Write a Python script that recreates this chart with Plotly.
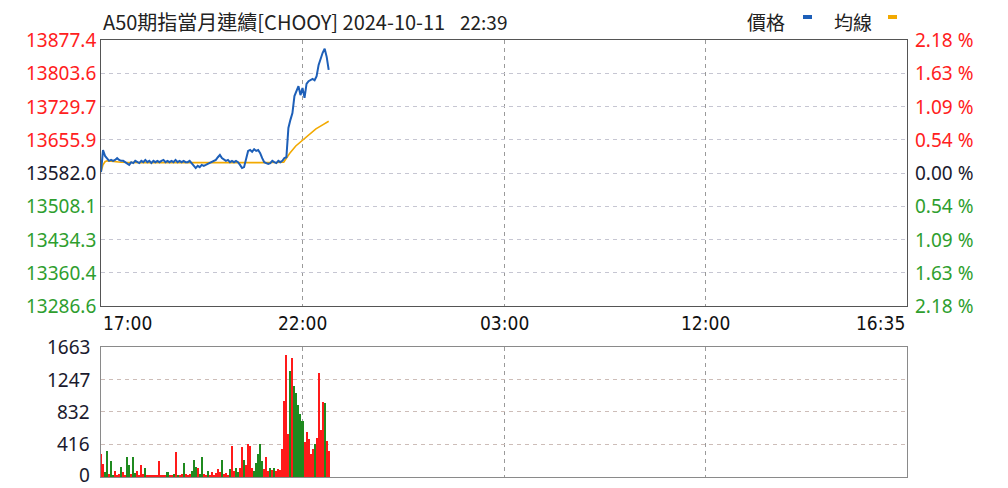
import plotly.graph_objects as go

# ---------------- data ----------------
title_text = "A50期指當月連續[CHOOY] 2024-10-11"
time_text = "22:39"
legend_names = ["價格", "均線"]
base_price = 13582.0
price_ticks = [13877.4, 13803.6, 13729.7, 13655.9, 13582.0, 13508.1, 13434.3, 13360.4, 13286.6]
pct_labels = ["2.18 %", "1.63 %", "1.09 %", "0.54 %", "0.00 %", "0.54 %", "1.09 %", "1.63 %", "2.18 %"]
vol_ticks = [0, 416, 832, 1247, 1663]
x_tick_pos = [0, 300, 600, 900, 1200]          # minutes on the session axis
x_tick_labels = ["17:00", "22:00", "03:00", "12:00", "16:35"]

minutes = list(range(0, 340, 3))                 # minutes since 17:00
price = [13584, 13633, 13620, 13613, 13609, 13611, 13609, 13611, 13615, 13611,
         13609, 13609, 13606, 13602, 13600, 13606, 13604, 13609, 13606, 13604,
         13609, 13606, 13611, 13606, 13609, 13604, 13609, 13606, 13609, 13606,
         13609, 13611, 13606, 13609, 13606, 13609, 13606, 13611, 13606, 13609,
         13606, 13609, 13606, 13606, 13609, 13604, 13598, 13593, 13598, 13595,
         13600, 13598, 13600, 13602, 13604, 13606, 13609, 13611, 13617, 13622,
         13615, 13611, 13609, 13611, 13606, 13609, 13606, 13609, 13606, 13600,
         13593, 13595, 13611, 13631, 13633, 13629, 13635, 13631, 13633, 13626,
         13615, 13606, 13604, 13602, 13604, 13609, 13606, 13604, 13609, 13606,
         13609, 13615, 13617, 13682, 13700, 13715, 13753, 13764, 13775, 13755,
         13771, 13749, 13780, 13786, 13788, 13791, 13788, 13797, 13822, 13837,
         13849, 13858, 13840, 13811]

avg_minutes = [0, 3, 6, 9, 15, 30, 60, 90, 120, 150, 180, 210, 240, 272, 281, 290, 300, 311, 320, 330, 339]
avg_price = [13584, 13600, 13607, 13609, 13608, 13606, 13605, 13605, 13605, 13604,
             13604, 13605, 13605, 13606, 13626, 13642, 13655, 13669, 13680, 13689, 13697]

volume = [290, 170, 60, 330, 40, 200, 30, 80, 30, 40,
          130, 60, 30, 262, 150, 40, 250, 50, 80, 30,
          157, 40, 110, 25, 20, 20, 25, 20, 30, 210,
          20, 25, 20, 60, 25, 30, 40, 314, 30, 25,
          40, 183, 40, 30, 40, 80, 223, 130, 110, 40,
          250, 40, 30, 80, 30, 65, 30, 50, 100, 60,
          223, 40, 50, 30, 100, 393, 80, 120, 60, 120,
          380, 223, 150, 419, 400, 120, 80, 180, 300, 420,
          200, 100, 250, 80, 120, 90, 110, 80, 100, 90,
          354, 970, 1560, 550, 1362, 1520, 1166, 1074, 917, 812,
          720, 450, 576, 484, 300, 354, 419, 500, 1336, 600,
          956, 943, 458, 328]
# u = up (red), d = down (green)
vol_dir = list("uuddudduuu" "duuddudduu" "uuduuuuuuu" "uuuduududu"
               "uduuudddud" "duuduuuuuu" "duuuduuddu" "uduuuudddd"
               "duuududuuu" "uuuududddd" "duuuuuduuu" "uduu")

# ---------------- styles ----------------
# The page body has an 8px margin, so the figure is 1000x480 and all
# pixel positions below are measured on the 1008x488 window.
OFF = 8
W, H = 1008 - OFF, 488 - OFF
PL, PR, PT, PB = 101, 907, 40, 477   # plot area in window pixels
PW, PH = PR - PL, PB - PT

def px(x):
    return (x - PL) / PW

def py(y):
    return (PB - y) / PH

RED = "#ff2020"
GREEN = "#2e9e2e"
DARK = "#1a1a2e"
vol_colors = ["#ff1a1a" if d == "u" else "#1f8a1f" for d in vol_dir]

fig = go.Figure()
fig.add_trace(go.Bar(x=minutes, y=volume, marker=dict(color=vol_colors, line=dict(width=0)),
                     width=3, xaxis="x2", yaxis="y2", showlegend=False, hoverinfo="skip"))
fig.add_trace(go.Scatter(x=avg_minutes, y=avg_price, mode="lines",
                         line=dict(color="#f2a900", width=1.6), showlegend=False))
fig.add_trace(go.Scatter(x=minutes, y=price, mode="lines",
                         line=dict(color="#1d5fb8", width=2), showlegend=False))

grid_common = dict(showgrid=True, griddash="4px,4px", zeroline=False, ticks="",
                   showticklabels=False, showline=True, mirror=True, linewidth=1)

fig.update_layout(
    width=W, height=H,
    margin=dict(l=PL - OFF, r=W - (PR - OFF), t=PT - OFF, b=H - (PB - OFF), pad=0),
    paper_bgcolor="white", plot_bgcolor="white",
    bargap=0,
    font=dict(family="Noto Sans, Open Sans, sans-serif", color=DARK),
    xaxis=dict(domain=[0, 1], range=[0, 1200], tickvals=x_tick_pos[1:-1], anchor="y",
               gridcolor="#9a9a9a", linecolor="#555555", **grid_common),
    yaxis=dict(domain=[py(306), 1.0], range=[price_ticks[-1], price_ticks[0]],
               tickvals=price_ticks[1:-1], anchor="x",
               gridcolor="#c6c6d2", linecolor="#555555", **grid_common),
    xaxis2=dict(domain=[0, 1], range=[0, 1200], tickvals=x_tick_pos[1:-1], anchor="y2",
                gridcolor="#9a9a9a", linecolor="#8a8a8a", **grid_common),
    yaxis2=dict(domain=[0.0, py(347)], range=[vol_ticks[0], vol_ticks[-1]],
                tickvals=vol_ticks[1:-1], anchor="x2",
                gridcolor="#cdbdb8", linecolor="#8a8a8a", **grid_common),
)

ann = []
label_font = "Noto Sans, Open Sans, sans-serif"
for v, p in zip(price_ticks, pct_labels):
    col = RED if v > base_price else (GREEN if v < base_price else DARK)
    ann.append(dict(xref="x", yref="y", x=0, y=v, text=f"{v:.1f}", showarrow=False,
                    xanchor="right", yanchor="middle", xshift=-3,
                    font=dict(family=label_font, size=19, color=col)))
    ann.append(dict(xref="x", yref="y", x=1200, y=v, text=p, showarrow=False,
                    xanchor="left", yanchor="middle", xshift=6,
                    font=dict(family=label_font, size=19, color=col)))
for v in vol_ticks:
    ann.append(dict(xref="x2", yref="y2", x=0, y=v, text=str(v), showarrow=False,
                    xanchor="right", yanchor="middle", xshift=-9,
                    yshift=2 if v == 0 else 0,
                    font=dict(family=label_font, size=19, color=DARK)))
anchors = ["left", "center", "center", "center", "right"]
for xv, lab, an in zip(x_tick_pos, x_tick_labels, anchors):
    ann.append(dict(xref="x", yref="paper", x=xv, y=py(323), text=lab,
                    showarrow=False, xanchor=an, yanchor="middle",
                    font=dict(family="Liberation Sans Narrow, DejaVu Sans Condensed, Arial Narrow, sans-serif",
                              size=19, color="#111111")))
cjk = "Noto Sans CJK TC, Noto Sans, sans-serif"
ann.append(dict(xref="paper", yref="paper", x=px(101), y=py(21),
                text=title_text, showarrow=False, xanchor="left", yanchor="middle",
                font=dict(family=cjk, size=20, color="#222222")))
ann.append(dict(xref="paper", yref="paper", x=px(458), y=py(21),
                text=time_text, showarrow=False, xanchor="left", yanchor="middle",
                font=dict(family=cjk, size=19, color="#222222")))
ann.append(dict(xref="paper", yref="paper", x=px(766), y=py(21),
                text=legend_names[0], showarrow=False, xanchor="center", yanchor="middle",
                font=dict(family=cjk, size=19, color="#222222")))
ann.append(dict(xref="paper", yref="paper", x=px(853), y=py(21),
                text=legend_names[1], showarrow=False, xanchor="center", yanchor="middle",
                font=dict(family=cjk, size=19, color="#222222")))
fig.update_layout(annotations=ann)

fig.add_shape(type="rect", xref="paper", yref="paper",
              x0=px(803), x1=px(812), y0=py(19), y1=py(15),
              fillcolor="#1d5fb8", line=dict(width=0))
fig.add_shape(type="rect", xref="paper", yref="paper",
              x0=px(888), x1=px(897), y0=py(19), y1=py(15),
              fillcolor="#f2a900", line=dict(width=0))

fig.write_html("out.html")
